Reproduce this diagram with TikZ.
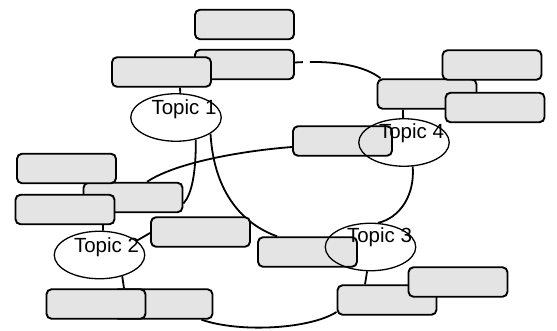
\documentclass[tikz,border=0pt]{standalone}
\usepackage{fontspec}
\setmainfont{Liberation Sans}
\usetikzlibrary{shapes.geometric}
\pgfdeclarelayer{background}
\pgfsetlayers{background,main}
\definecolor{boxfill}{RGB}{228,228,228}
\tikzset{
  box/.style={draw=black, fill=boxfill, rectangle, rounded corners=5pt, line width=1.9pt,
    minimum width=99pt, minimum height=29.5pt, inner sep=0pt},
  topic/.style={draw=black, ellipse, line width=1.3pt, minimum width=90.5pt,
    minimum height=47.5pt, inner sep=0pt},
  label/.style={anchor=base, inner sep=0pt, font=\fontsize{20.5}{23}\selectfont},
  conn/.style={draw=black, line width=1.8pt}
}
\begin{document}
\begin{tikzpicture}[x=1pt,y=-1pt]
\useasboundingbox (0,0) rectangle (557,331);
% boxes (back to front)
\node[box] (bT) at (244.5,24.5) {};
\node[box] (b2) at (244.5,64.5) {};
\node[box] (b3) at (161.5,72) {};
\node[box] (b4a) at (427,94) {};
\node[box] (b4TR) at (492,65) {};
\node[box] (b4BR) at (495,107.5) {};
\node[box] (b4L) at (342.5,141) {};
\node[box] (bB) at (133,197.5) {};
\node[box] (b2TL) at (66.5,168.5) {};
\node[box] (b2M) at (65,209.5) {};
\node[box] (b2R) at (200.5,232) {};
\node[box] (bLR) at (163,304) {};
\node[box] (bLL) at (96,304) {};
\node[box] (b3L) at (307.5,252) {};
\node[box] (b3Lo) at (387,300) {};
\node[box] (b3R) at (458,282) {};
% topics
\node[topic] (t1) at (176,117.5) {};
\node[topic] (t4) at (404,142.5) {};
\node[topic] (t3) at (370.5,247) {};
\node[topic] (t2) at (99.5,255) {};
\node[label] (l1) at (184,115) {Topic 1};
\node[label] (l4) at (411.5,139) {Topic 4};
\node[label] (l3) at (379.5,243) {Topic 3};
\node[label] (l2) at (106.5,252) {Topic 2};
% connectors
\begin{pgfonlayer}{background}
\draw[conn] (t1.-48) .. controls (196,172) and (192,194) .. ([yshift=-6pt]bB.east);
\draw[conn] (t1.-25) .. controls (214,195) and (245,225) .. ([xshift=20pt]b3L.north west);
\draw[conn] ([yshift=-6pt]b4L.west) .. controls (240,151) and (175,163) .. ([xshift=14pt]bB.north);
\draw[conn] (t4.-70) .. controls (415,195) and (400,218) .. (t3.73);
\draw[conn] (t2.21) .. controls (144,237) .. ([yshift=-1pt]b2R.west);
\draw[conn] ([xshift=-12pt]bLR.south east) .. controls (240,333) and (310,329) .. ([yshift=-12pt]b3Lo.west);
\draw[conn, dash pattern=on 8pt off 7pt on 400pt] ([yshift=2pt]b2.east) .. controls (335,60) and (365,66) .. ([xshift=4pt]b4a.north west);
\draw[conn] (t1.80.5) -- ([xshift=18.5pt]b3.south);
\draw[conn] (t4.92) -- ([xshift=-24pt]b4a.south);
\draw[conn] (t2.82) -- ([xshift=38pt]b2M.south);
\draw[conn] (t3.-98) -- ([xshift=-22pt]b3Lo.north);
\draw[conn] (t2.-43.6) -- ([xshift=28pt]bLL.north);
\end{pgfonlayer}
\end{tikzpicture}
\end{document}
